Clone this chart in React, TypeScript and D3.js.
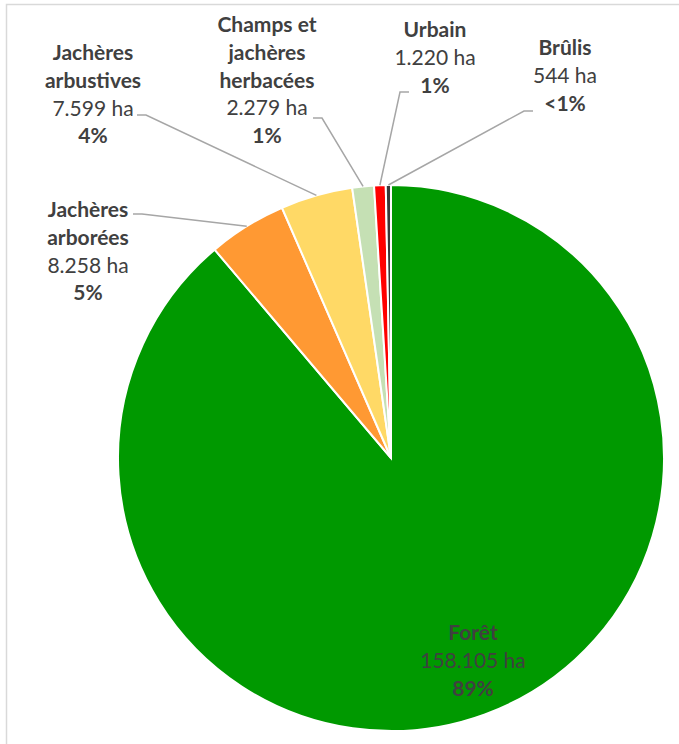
import React from "react";
import * as d3 from "d3";

const categories = ["Forêt", "Jachères arborées", "Jachères arbustives", "Champs et jachères herbacées", "Urbain", "Brûlis"];
const areas = [158105, 8258, 7599, 2279, 1220, 544];
const valueLabels = ["158.105 ha", "8.258 ha", "7.599 ha", "2.279 ha", "1.220 ha", "544 ha"];
const percentLabels = ["89%", "5%", "4%", "1%", "1%", "<1%"];
const nameLines = [["Forêt"], ["Jachères", "arborées"], ["Jachères", "arbustives"], ["Champs et", "jachères", "herbacées"], ["Urbain"], ["Brûlis"]];
const colors = ["#009900", "#FF9933", "#FFD966", "#C5E0B4", "#FF0000", "#3A3A3A"];

const W = 679, H = 744;
const cx = 391, cy = 458, R = 273;
const LH = 27.6;

// label block layout: center x, y of first line, leader start (x,y) or null
const layout = [
  { x: 473, y: 633, leader: null as null | [number, number] },
  { x: 88, y: 210, leader: [133, 214] as [number, number] },
  { x: 93, y: 53, leader: [137, 115] as [number, number] },
  { x: 267, y: 25, leader: [313, 118] as [number, number] },
  { x: 435, y: 30, leader: [409, 92] as [number, number] },
  { x: 565, y: 48, leader: [533, 111] as [number, number] },
];

export default function App() {
  const pie = d3.pie<number>().value((d) => d).sort(null)(areas);
  const arc = d3.arc<d3.PieArcDatum<number>>().innerRadius(0).outerRadius(R);
  const font = "Lato, 'Open Sans', sans-serif";
  return (
    <svg width={W} height={H} style={{ display: "block", position: "absolute", left: 0, top: 0 }}>
      <rect x={0} y={0} width={W} height={H} fill="#fff" />
      <rect x={6.5} y={4.5} width={W + 10} height={H + 10} fill="none" stroke="#D9D9D9" strokeWidth={1.5} />
      <g transform={`translate(${cx},${cy})`}>
        {pie.map((p, i) => (
          <path key={categories[i]} d={arc(p) || ""} fill={colors[i]} stroke="#fff" strokeWidth={2} />
        ))}
      </g>
      {pie.map((p, i) => {
        const L = layout[i];
        if (!L.leader) return null;
        const mid = (p.startAngle + p.endAngle) / 2;
        const ex = cx + R * Math.sin(mid);
        const ey = cy - R * Math.cos(mid);
        const [sx, sy] = L.leader;
        const dir = ex > sx ? 1 : -1;
        const hx = sx + dir * 9;
        return (
          <polyline key={"l" + i} points={`${sx},${sy} ${hx},${sy} ${ex},${ey}`} fill="none" stroke="#A6A6A6" strokeWidth={1.5} />
        );
      })}
      {categories.map((c, i) => {
        const L = layout[i];
        const lines: { t: string; bold: boolean }[] = [
          ...nameLines[i].map((t) => ({ t, bold: true })),
          { t: valueLabels[i], bold: false },
          { t: percentLabels[i], bold: true },
        ];
        return (
          <g key={"t" + c} fontFamily={font} fontSize={21} fill="#404040" textAnchor="middle">
            {lines.map((ln, j) => (
              <text key={j} x={L.x} y={L.y + j * LH} dy="0.35em" fontWeight={ln.bold ? 700 : 400}>
                {ln.t}
              </text>
            ))}
          </g>
        );
      })}
    </svg>
  );
}
